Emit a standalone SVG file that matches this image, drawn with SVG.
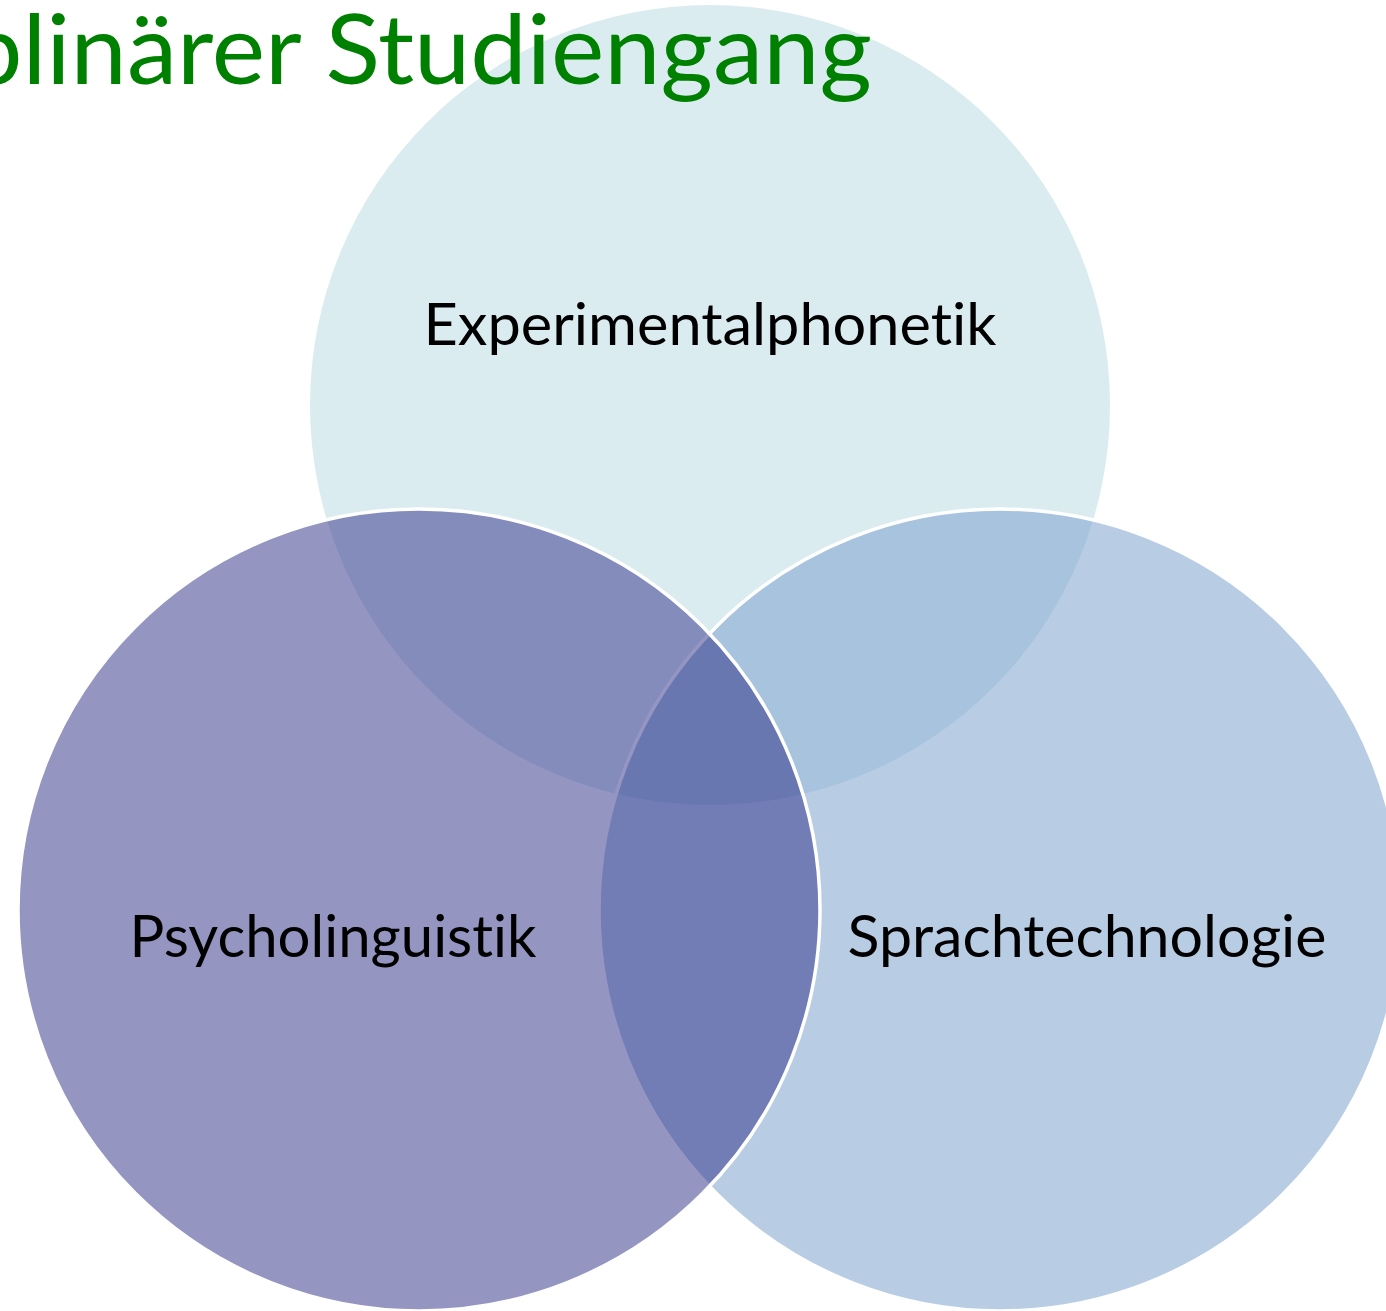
<svg xmlns="http://www.w3.org/2000/svg" width="1386" height="1311" viewBox="0 0 1386 1311">
<style>
.lbl{font-family:Lato,"Open Sans","Liberation Sans",sans-serif;font-size:58px;fill:#000;text-anchor:middle;font-variant-ligatures:none}
.title{font-family:Lato,"Open Sans","Liberation Sans",sans-serif;font-size:97px;fill:#008000;font-variant-ligatures:none}
.ring{stroke:#fff;stroke-width:3.5}
</style>
<rect width="1386" height="1311" fill="#fff"/>
<g id="node-experimentalphonetik">
<circle cx="710" cy="405" r="400" fill="#DAECEF"/>
<text class="lbl" x="710" y="345" textLength="573" lengthAdjust="spacingAndGlyphs">Experimentalphonetik</text>
</g>
<g id="node-sprachtechnologie">
<circle class="ring" cx="1000" cy="910" r="401" fill="rgb(126,162,206)" fill-opacity="0.55"/>
<text class="lbl" x="1087" y="957" textLength="479" lengthAdjust="spacingAndGlyphs">Sprachtechnologie</text>
</g>
<g id="node-psycholinguistik">
<circle class="ring" cx="419" cy="910" r="401" fill="rgb(43,43,133)" fill-opacity="0.5"/>
<text class="lbl" x="333" y="957" textLength="407" lengthAdjust="spacingAndGlyphs">Psycholinguistik</text>
</g>
<g id="connectors"></g>
<g id="title">
<text class="title" x="872" y="84" text-anchor="end" textLength="906" lengthAdjust="spacingAndGlyphs">plinärer Studiengang</text>
</g>
</svg>
